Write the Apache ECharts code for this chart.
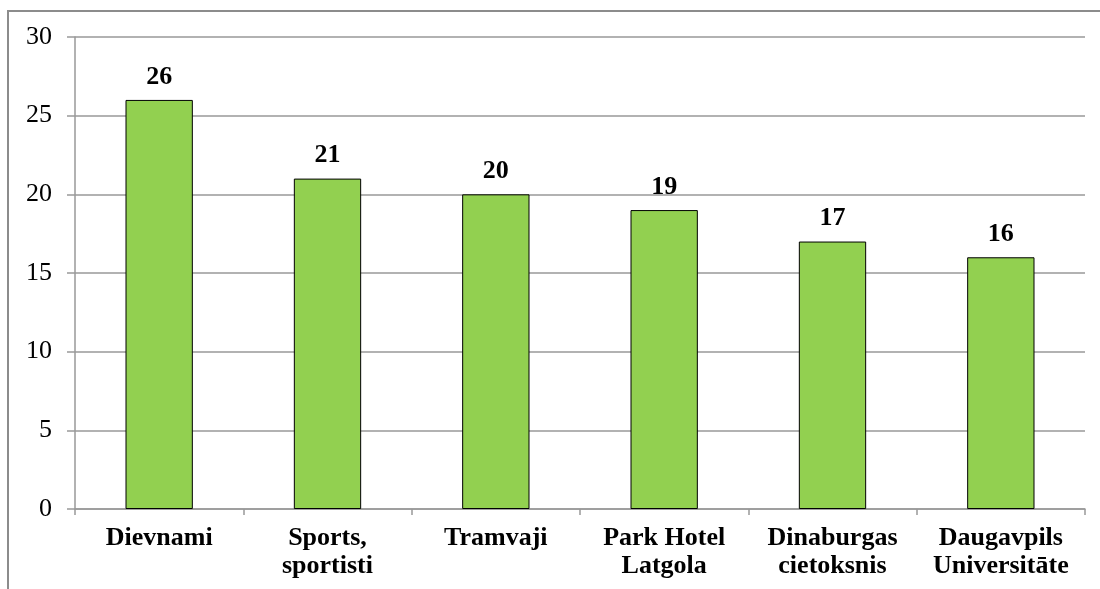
<!DOCTYPE html>
<html>
<head>
<meta charset="utf-8">
<script src="https://cdn.jsdelivr.net/npm/echarts@6/dist/echarts.min.js"></script>
<style>
  html, body { margin: 0; padding: 0; background: #fff; }
  #main { width: 1100px; height: 589px; }
</style>
</head>
<body>
<div id="main"></div>
<script>
var categories = ['Dievnami', 'Sports,\nsportisti', 'Tramvaji', 'Park Hotel\nLatgola', 'Dinaburgas\ncietoksnis', 'Daugavpils\nUniversitāte'];
var values = [26, 21, 20, 19, 17, 16];

var serif = '"Liberation Serif", "Times New Roman", serif';

window.addEventListener('load', function () {
    var chart = echarts.init(document.getElementById('main'));
    var option = {
        backgroundColor: '#fff',
        animation: false,
        graphic: [{
            type: 'rect',
            shape: { x: 8, y: 11, width: 1200, height: 700 },
            style: { fill: 'none', stroke: '#8c8c8c', lineWidth: 2 },
            silent: true
        }],
        grid: { left: 75, right: 15, top: 37, bottom: 80 },
        xAxis: {
            type: 'category',
            data: categories,
            axisLine: { lineStyle: { color: '#999', width: 1.5 } },
            axisTick: { show: true, length: 6, lineStyle: { color: '#999', width: 1.5 } },
            axisLabel: {
                fontFamily: serif,
                fontWeight: 'bold',
                fontSize: 26,
                color: '#000',
                lineHeight: 28,
                margin: 15,
                interval: 0
            }
        },
        yAxis: {
            type: 'value',
            min: 0,
            max: 30,
            interval: 5,
            axisLine: { show: true, lineStyle: { color: '#999', width: 1.5 } },
            axisTick: { show: true, length: 8, lineStyle: { color: '#999', width: 1.5 } },
            splitLine: { lineStyle: { color: '#999', width: 1.5 } },
            axisLabel: {
                fontFamily: serif,
                fontSize: 26,
                color: '#000',
                margin: 23
            }
        },
        series: [{
            type: 'bar',
            data: values,
            barWidth: '40%',
            itemStyle: { color: '#92D050', borderColor: '#000', borderWidth: 1 },
            label: {
                show: true,
                position: 'top',
                distance: 10,
                fontFamily: serif,
                fontWeight: 'bold',
                fontSize: 26,
                color: '#000'
            }
        }]
    };
    chart.setOption(option);
});
</script>
</body>
</html>
